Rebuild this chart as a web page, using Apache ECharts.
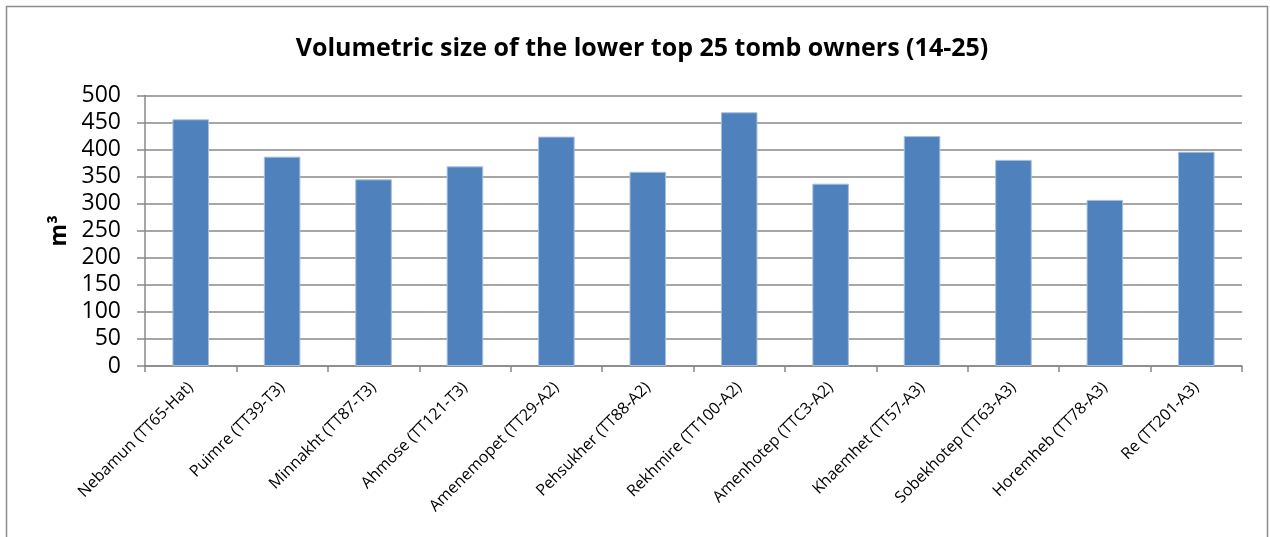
<!DOCTYPE html>
<html>
<head>
<meta charset="utf-8">
<script src="https://cdn.jsdelivr.net/npm/echarts@6/dist/echarts.min.js"></script>
<style>
  html, body { margin: 0; padding: 0; background: #fff; }
  #chart { width: 1270px; height: 537px; }
</style>
</head>
<body>
<div id="chart"></div>
<script>
// Tomb owners (ranks 14-25) and their volumetric size in cubic metres
const owners = [
  'Nebamun (TT65-Hat)', 'Puimre (TT39-T3)', 'Minnakht (TT87-T3)', 'Ahmose (TT121-T3)',
  'Amenemopet (TT29-A2)', 'Pehsukher (TT88-A2)', 'Rekhmire (TT100-A2)', 'Amenhotep (TTC3-A2)',
  'Khaemhet (TT57-A3)', 'Sobekhotep (TT63-A3)', 'Horemheb (TT78-A3)', 'Re (TT201-A3)'
];
const volumes = [456, 387, 345, 369, 424, 359, 469, 337, 425, 381, 307, 396];

const yMin = 0, yMax = 500, yStep = 50;

const font = '"Open Sans", "Noto Sans", "Liberation Sans", sans-serif';
const gridColor = '#888888';

const chart = echarts.init(document.getElementById('chart'));
chart.setOption({
  animation: false,
  title: {
    text: 'Volumetric size of the lower top 25 tomb owners (14-25)',
    left: 637, top: 31, textAlign: 'center',
    textStyle: { fontFamily: font, fontSize: 25, fontWeight: 'bold', color: '#000' }
  },
  graphic: [{
    type: 'rect', shape: { x: 6.5, y: 6.5, width: 1261, height: 560 },
    style: { fill: 'none', stroke: '#8c8c8c', lineWidth: 1.5 }, silent: true
  }],
  grid: { left: 145, right: 28, top: 95.5, bottom: 171, containLabel: false },
  xAxis: {
    type: 'category',
    data: owners,
    boundaryGap: true,
    axisLine: { lineStyle: { color: gridColor, width: 1.5 } },
    axisTick: { show: true, length: 6, alignWithLabel: false, lineStyle: { color: gridColor, width: 1.5 } },
    axisLabel: {
      rotate: 45, interval: 0, margin: 19,
      fontFamily: font, fontSize: 16, color: '#000'
    }
  },
  yAxis: {
    type: 'value',
    min: yMin, max: yMax, interval: yStep,
    name: 'm³',
    nameLocation: 'middle', nameRotate: 90, nameGap: 72,
    nameTextStyle: { fontFamily: font, fontSize: 23, fontWeight: 'bold', color: '#000' },
    axisLine: { show: true, lineStyle: { color: gridColor, width: 1.5 } },
    axisTick: { show: true, length: 8, lineStyle: { color: gridColor, width: 1.5 } },
    axisLabel: { margin: 24, fontFamily: font, fontSize: 23, color: '#000' },
    splitLine: { lineStyle: { color: gridColor, width: 1.5 } }
  },
  series: [{
    type: 'bar',
    data: volumes,
    barCategoryGap: '60%',
    itemStyle: { color: '#4F81BD', borderColor: '#A7C0DE', borderWidth: 1 }
  }]
});
</script>
</body>
</html>
